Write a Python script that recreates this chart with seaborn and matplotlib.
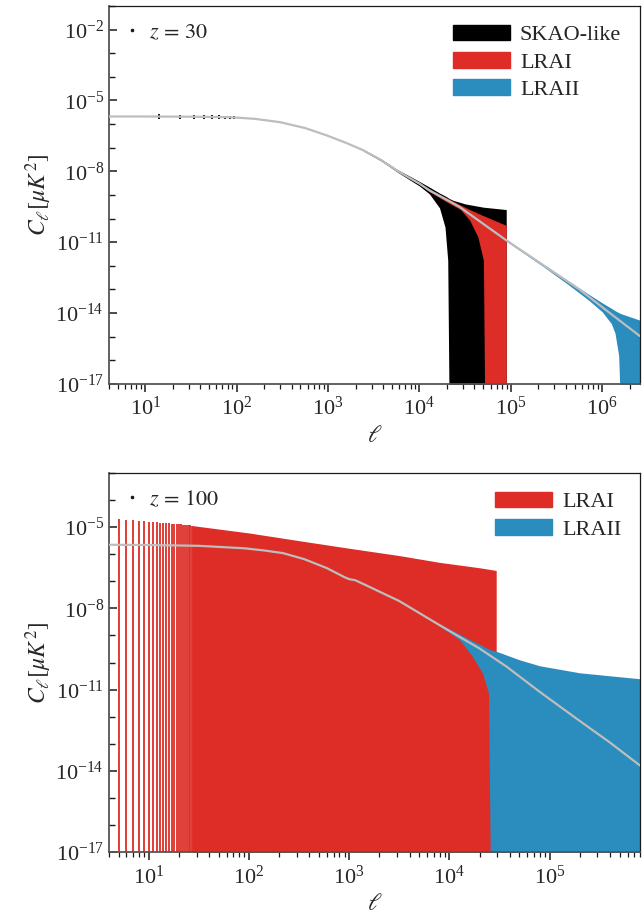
import numpy as np
import pandas as pd
import matplotlib
matplotlib.use("Agg")
import matplotlib.pyplot as plt
import seaborn as sns
from matplotlib.lines import Line2D
from matplotlib.patches import Patch
from matplotlib.ticker import NullFormatter

# ---- z = 30 : signal (log10 ell, log10 C_ell) ----
sig30_logl = [0.6, 1.0, 1.5, 1.93, 2.2, 2.475, 2.75, 2.985, 3.2, 3.386, 3.58, 3.75, 3.9, 4.0,
              4.11, 4.3, 4.44, 4.7, 4.95, 5.35, 5.75, 6.1, 6.41]
sig30_logc = [-5.68, -5.68, -5.69, -5.71, -5.78, -5.92, -6.17, -6.48, -6.80, -7.11, -7.52, -7.96, -8.30, -8.52,
              -8.81, -9.21, -9.51, -10.23, -10.92, -11.96, -13.0, -14.05, -14.97]

# SKAO-like individual low-ell error bars
skao_bar_ell = [14, 24, 34, 44, 54, 64, 74, 84, 94]
skao_bar_dex = [0.10, 0.09, 0.08, 0.08, 0.07, 0.07, 0.06, 0.06, 0.05]

# error envelopes (log10 ell, upper, lower); -18 means below the axis
skao_logl = [3.386, 3.58, 3.75, 3.9, 4.0, 4.11, 4.22, 4.28, 4.31, 4.325, 4.37, 4.5, 4.7, 4.95]
skao_up = [-7.08, -7.48, -7.91, -8.22, -8.43, -8.67, -8.92, -9.04, -9.11, -9.15, -9.23, -9.38, -9.52, -9.62]
skao_lo = [-7.14, -7.56, -8.01, -8.38, -8.62, -8.96, -9.55, -10.36, -11.77, -18, -18, -18, -18, -18]

lrai30_logl = [3.9, 4.0, 4.11, 4.3, 4.45, 4.55, 4.64, 4.70, 4.715, 4.75, 4.95]
lrai30_up = [-8.28, -8.49, -8.76, -9.13, -9.43, -9.62, -9.78, -9.88, -9.90, -9.96, -10.29]
lrai30_lo = [-8.32, -8.55, -8.86, -9.30, -9.62, -10.07, -10.78, -11.77, -18, -18, -18]

lraii30_logl = [4.0, 4.44, 4.95, 5.35, 5.63, 5.85, 6.0, 6.1, 6.14, 6.18, 6.20, 6.41]
lraii30_up = [-8.50, -9.48, -10.88, -11.92, -12.64, -13.20, -13.57, -13.80, -13.90, -13.98, -14.02, -14.30]
lraii30_lo = [-8.54, -9.54, -10.96, -12.02, -12.80, -13.45, -13.95, -14.45, -14.85, -15.80, -18, -18]

# ---- z = 100 ----
sig100_logl = [0.6, 1.0, 1.5, 1.65, 1.95, 2.15, 2.34, 2.55, 2.775, 2.96, 3.0, 3.06, 3.17, 3.5, 3.87,
               4.1, 4.3, 4.57, 4.9, 5.26, 5.6, 5.9]
sig100_logc = [-5.65, -5.66, -5.69, -5.72, -5.78, -5.86, -5.96, -6.18, -6.51, -6.86, -6.92, -6.96, -7.15, -7.73, -8.55,
               -9.05, -9.48, -10.15, -11.08, -12.05, -12.95, -13.8]

lrai100_bar_ell = list(range(5, 28))
lrai100_bar_up = [-4.69, -4.72, -4.74, -4.76, -4.78, -4.80, -4.81, -4.82, -4.83, -4.84, -4.85, -4.86,
                  -4.87, -4.88, -4.89, -4.89, -4.90, -4.91, -4.92, -4.92, -4.93, -4.93, -4.94]

lrai100_logl = [1.43, 2.01, 2.5, 3.0, 3.5, 3.9, 4.3, 4.467]
lrai100_up = [-4.94, -5.22, -5.50, -5.78, -6.05, -6.30, -6.50, -6.60]
lrai100_lo = [-18, -18, -18, -18, -18, -18, -18, -18]

lraii100_logl = [3.87, 4.0, 4.1, 4.23, 4.33, 4.39, 4.41, 4.47, 4.7, 4.9, 5.3, 5.9]
lraii100_up = [-8.52, -8.76, -8.95, -9.20, -9.38, -9.50, -9.53, -9.59, -9.90, -10.12, -10.38, -10.60]
lraii100_lo = [-8.58, -8.90, -9.15, -9.78, -10.39, -11.13, -18, -18, -18, -18, -18, -18]

black = "#000000"
red = "#de2d26"
blue = "#2b8cbe"
grey = "#bdbdbd"

sns.set_theme(style="ticks")
plt.rcParams["font.family"] = ["Liberation Serif", "DejaVu Serif"]
plt.rcParams["mathtext.fontset"] = "stix"

fig = plt.figure(figsize=(6.44, 9.14), dpi=100)
ax1 = fig.add_axes([0.169, 0.580, 0.825, 0.4135])
ax2 = fig.add_axes([0.169, 0.0678, 0.825, 0.4147])


def band(ax, logl, up, lo, color):
    l = 10.0 ** np.array(logl)
    ax.fill_between(l, 10.0 ** np.array(lo), 10.0 ** np.array(up), color=color, lw=0)


def style(ax, ylim, yticks, xlim):
    ax.set_xscale("log")
    ax.set_yscale("log")
    ax.set_xlim(*xlim)
    ax.set_ylim(*ylim)
    ax.set_yticks(yticks)
    ax.set_yticks([10.0 ** k for k in range(-17, int(np.log10(ylim[1])) + 1)], minor=True)
    ax.yaxis.set_minor_formatter(NullFormatter())
    ax.tick_params(axis="y", which="major", direction="in", length=6, width=1.1, labelsize=16, color="k")
    ax.tick_params(axis="y", which="minor", direction="in", length=4, width=1.0, color="k")
    ax.tick_params(axis="x", which="major", direction="out", length=6, width=1.1, labelsize=16, color="k")
    ax.tick_params(axis="x", which="minor", direction="out", length=3.5, width=0.9, color="k")
    for s in ["left", "bottom"]:
        ax.spines[s].set_color("#555555")
        ax.spines[s].set_linewidth(1.3)
    for s in ["top", "right"]:
        ax.spines[s].set_color("k")
        ax.spines[s].set_linewidth(0.9)


def labels(ax, ztxt, names, colors):
    ax.set_xlabel(r"$\ell$", fontsize=17)
    ax.set_ylabel(r"$C_\ell[\mu K^2]$", fontsize=17, labelpad=1)
    leg_z = ax.legend(handles=[Line2D([], [], ls="none", marker="o", ms=1.6, color="k")],
                      labels=[ztxt], loc="upper left", frameon=False, fontsize=16,
                      handlelength=0.6, handletextpad=0.45, borderaxespad=0.35)
    ax.add_artist(leg_z)
    ax.legend(handles=[Patch(color=c) for c in colors], labels=names, loc="upper right",
              frameon=False, fontsize=16, handlelength=2.55, handletextpad=0.45,
              labelspacing=0.3, borderaxespad=0.45)


# top panel
style(ax1, (1e-17, 1e-1), [1e-17, 1e-14, 1e-11, 1e-8, 1e-5, 1e-2], (4, 2.6e6))
band(ax1, skao_logl, skao_up, skao_lo, black)
sig30_at_bars = np.interp(np.log10(skao_bar_ell), sig30_logl, sig30_logc)
ax1.vlines(skao_bar_ell, 10.0 ** (sig30_at_bars - np.array(skao_bar_dex)),
           10.0 ** (sig30_at_bars + np.array(skao_bar_dex)), color=black, lw=1.3)
band(ax1, lrai30_logl, lrai30_up, lrai30_lo, red)
band(ax1, lraii30_logl, lraii30_up, lraii30_lo, blue)
df30 = pd.DataFrame({"ell": 10.0 ** np.array(sig30_logl), "cl": 10.0 ** np.array(sig30_logc)})
sns.lineplot(data=df30, x="ell", y="cl", ax=ax1, color=grey, lw=1.6, zorder=5)
labels(ax1, r"$z\,=\,30$", ["SKAO-like", "LRAI", "LRAII"], [black, red, blue])

# bottom panel
style(ax2, (1e-17, 1e-3), [1e-17, 1e-14, 1e-11, 1e-8, 1e-5], (4, 8e5))
ax2.vlines(lrai100_bar_ell, 1e-18, 10.0 ** np.array(lrai100_bar_up), color=red, lw=1.3)
band(ax2, lrai100_logl, lrai100_up, lrai100_lo, red)
band(ax2, lraii100_logl, lraii100_up, lraii100_lo, blue)
df100 = pd.DataFrame({"ell": 10.0 ** np.array(sig100_logl), "cl": 10.0 ** np.array(sig100_logc)})
sns.lineplot(data=df100, x="ell", y="cl", ax=ax2, color=grey, lw=1.6, zorder=5)
labels(ax2, r"$z\,=\,100$", ["LRAI", "LRAII"], [red, blue])

fig.savefig("out.png", dpi=100)
